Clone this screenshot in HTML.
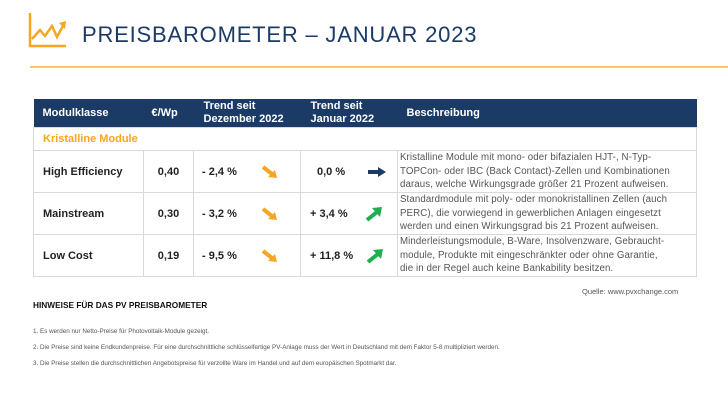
<!DOCTYPE html>
<html><head><meta charset="utf-8"><style>
body{margin:0;width:728px;height:410px;background:#fff;font-family:"Liberation Sans",sans-serif;position:relative;overflow:hidden}
.a{position:absolute;white-space:nowrap}
table{position:absolute;left:33px;top:99px;border-collapse:collapse;width:664px;table-layout:fixed}
td{border:1px solid #d9d9d9;padding:0;font-size:11px;color:#222;vertical-align:middle;font-weight:bold}
th{background:#1b3a66;color:#fff;font-size:11px;font-weight:bold;text-align:left;height:28px;padding:0;line-height:13px;border:none}
.d{font-size:9.7px;color:#555;line-height:13.5px;padding-left:2px;white-space:nowrap;font-weight:normal;letter-spacing:0.1px}
.r td{height:41px}
svg.ar{vertical-align:middle}
</style></head><body>
<svg class="a" style="left:28px;top:11px" width="40" height="38"><path d="M2 2V35H38" stroke="#f5a623" stroke-width="2.5" fill="none"/><path d="M4 28L12 19L17 25L24 15L29 26L36 13" stroke="#f5a623" stroke-width="2.5" fill="none"/><path d="M31 12L38 10L37 18Z" fill="#f5a623"/></svg>
<div class="a" style="left:82px;top:22px;font-size:22px;color:#1b3a66;letter-spacing:0.8px">PREISBAROMETER – JANUAR 2023</div>
<div class="a" style="left:30px;top:66px;width:698px;height:2px;background:#f8c66b"></div>
<table>
<colgroup><col style="width:110px"><col style="width:50px"><col style="width:107px"><col style="width:97px"><col></colgroup>
<tr><th style="padding-left:9px">Modulklasse</th><th style="padding-left:8px">€/Wp</th><th style="padding-left:10px">Trend seit<br>Dezember 2022</th><th style="padding-left:10px">Trend seit<br>Januar 2022</th><th style="padding-left:9px">Beschreibung</th></tr>
<tr><td colspan="5" style="height:22px;padding-left:9px;color:#f5a623;font-weight:bold">Kristalline Module</td></tr>
<tr class="r"><td style="padding-left:9px">High Efficiency</td><td style="text-align:center">0,40</td><td style="padding-left:8px">- 2,4 % <svg class="ar" style="margin-left:22px" width="16" height="14"><path d="M1 2L10 9" stroke="#f5a623" stroke-width="4"/><path d="M6 12L15 13L13 5Z" fill="#f5a623"/></svg></td><td style="padding-left:16px">0,0 % <svg class="ar" style="margin-left:20px" width="18" height="10"><path d="M0 5H11" stroke="#1b3a66" stroke-width="4"/><path d="M10 0L18 5L10 10Z" fill="#1b3a66"/></svg></td><td class="d">Kristalline Module mit mono- oder bifazialen HJT-, N-Typ-<br>TOPCon- oder IBC (Back Contact)-Zellen und Kombinationen<br>daraus, welche Wirkungsgrade größer 21 Prozent aufweisen.</td></tr>
<tr class="r"><td style="padding-left:9px">Mainstream</td><td style="text-align:center">0,30</td><td style="padding-left:8px">- 3,2 % <svg class="ar" style="margin-left:22px" width="16" height="14"><path d="M1 2L10 9" stroke="#f5a623" stroke-width="4"/><path d="M6 12L15 13L13 5Z" fill="#f5a623"/></svg></td><td style="padding-left:9px">+ 3,4 % <svg class="ar" style="margin-left:14px" width="18" height="16"><path d="M2 14L12 6" stroke="#1eae4e" stroke-width="4"/><path d="M7 2L17 1L15 11Z" fill="#1eae4e"/></svg></td><td class="d">Standardmodule mit poly- oder monokristallinen Zellen (auch<br>PERC), die vorwiegend in gewerblichen Anlagen eingesetzt<br>werden und einen Wirkungsgrad bis 21 Prozent aufweisen.</td></tr>
<tr class="r"><td style="padding-left:9px">Low Cost</td><td style="text-align:center">0,19</td><td style="padding-left:8px">- 9,5 % <svg class="ar" style="margin-left:22px" width="16" height="14"><path d="M1 2L10 9" stroke="#f5a623" stroke-width="4"/><path d="M6 12L15 13L13 5Z" fill="#f5a623"/></svg></td><td style="padding-left:9px">+ 11,8 % <svg class="ar" style="margin-left:10px" width="18" height="16"><path d="M2 14L12 6" stroke="#1eae4e" stroke-width="4"/><path d="M7 2L17 1L15 11Z" fill="#1eae4e"/></svg></td><td class="d">Minderleistungsmodule, B-Ware, Insolvenzware, Gebraucht-<br>module, Produkte mit eingeschränkter oder ohne Garantie,<br>die in der Regel auch keine Bankability besitzen.</td></tr>
</table>
<div class="a" style="left:582px;top:287px;font-size:7.5px;color:#555">Quelle: www.pvxchange.com</div>
<div class="a" style="left:33px;top:300px;font-size:8.3px;font-weight:bold;color:#111">HINWEISE FÜR DAS PV PREISBAROMETER</div>
<div class="a" style="left:33px;top:328px;font-size:6.3px;color:#555">1. Es werden nur Netto-Preise für Photovoltaik-Module gezeigt.</div>
<div class="a" style="left:33px;top:344px;font-size:6.3px;color:#555">2. Die Preise sind keine Endkundenpreise. Für eine durchschnittliche schlüsselfertige PV-Anlage muss der Wert in Deutschland mit dem Faktor 5-8 multipliziert werden.</div>
<div class="a" style="left:33px;top:360px;font-size:6.3px;color:#555">3. Die Preise stellen die durchschnittlichen Angebotspreise für verzollte Ware im Handel und auf dem europäischen Spotmarkt dar.</div>
</body></html>
